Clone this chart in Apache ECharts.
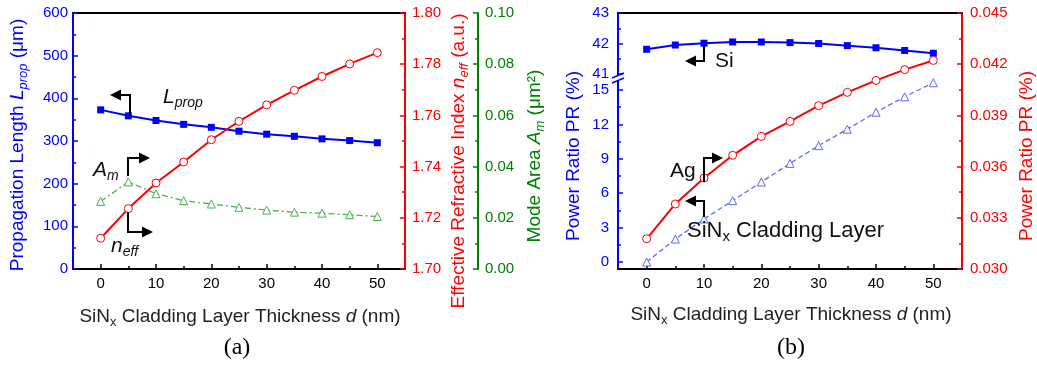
<!DOCTYPE html>
<html><head><meta charset="utf-8">
<script src="https://cdn.jsdelivr.net/npm/echarts@6/dist/echarts.min.js"></script>
<style>html,body{margin:0;padding:0;background:#fff}#c{width:1037px;height:366px}</style>
</head><body><div id="c"></div>
<script>
// ---- data ----
const thickness = [0, 5, 10, 15, 20, 25, 30, 35, 40, 45, 50];
const propLength = [373, 359, 348, 339, 332, 323, 316, 311, 305, 301, 296];
const nEff = [1.712, 1.7236, 1.7336, 1.7418, 1.7505, 1.7577, 1.7641, 1.7698, 1.7752, 1.7801, 1.7845];
const modeArea = [0.0264, 0.034, 0.0294, 0.0267, 0.0254, 0.0241, 0.0230, 0.0222, 0.0218, 0.0212, 0.0205];
const prSi = [41.81, 41.95, 42.01, 42.05, 42.05, 42.03, 42.0, 41.93, 41.86, 41.77, 41.68];
const prSiNx = [0, 2.0, 3.75, 5.35, 6.97, 8.6, 10.15, 11.58, 13.06, 14.41, 15.63];
const prAg = [0.03177, 0.03381, 0.03533, 0.03666, 0.03777, 0.03865, 0.03957, 0.04035, 0.04105, 0.04168, 0.04222];
const xMajorTicks = [0, 10, 20, 30, 40, 50];
const xMinorTicks = [5, 15, 25, 35, 45];

const FONT = 'Liberation Sans, Arial, sans-serif';
const BLUE = '#0000ff', RED = '#ff0000', GREEN = '#008000', BLACK = '#000';
const pairs = arr => thickness.map((x, i) => [x, arr[i]]);

function xMain(grid) {
  return {
    type: 'value', gridIndex: grid, position: 'bottom', min: -5, max: 55,
    axisLine: {show: true, onZero: false, lineStyle: {color: BLACK, width: 2}},
    axisTick: {show: true, inside: true, length: 5, customValues: xMajorTicks, lineStyle: {color: BLACK, width: 1.5}},
    axisLabel: {show: true, customValues: xMajorTicks, color: BLACK, fontSize: 15, fontFamily: FONT, margin: 7},
    splitLine: {show: false}
  };
}
function xMinor(grid) {
  return {
    type: 'value', gridIndex: grid, position: 'bottom', min: -5, max: 55,
    axisLine: {show: false},
    axisTick: {show: true, inside: true, length: 3, customValues: xMinorTicks, lineStyle: {color: BLACK, width: 1.5}},
    axisLabel: {show: false}, splitLine: {show: false}
  };
}
function xTop(grid) {
  return {
    type: 'value', gridIndex: grid, position: 'top', min: -5, max: 55,
    axisLine: {show: true, onZero: false, lineStyle: {color: BLACK, width: 2}},
    axisTick: {show: false}, axisLabel: {show: false}, splitLine: {show: false}
  };
}
function xHidden(grid) {
  return {type: 'value', gridIndex: grid, min: -5, max: 55, show: false};
}
function yAx(o) {
  const c = o.color;
  return {
    type: 'value', gridIndex: o.grid, position: o.pos, offset: o.offset || 0,
    min: o.min, max: o.max, interval: o.interval,
    axisLine: {show: o.line !== false, onZero: false, lineStyle: {color: c, width: 2}},
    axisTick: {show: true, inside: true, length: 5, lineStyle: {color: c, width: 1.5}},
    minorTick: {show: true, splitNumber: 2, length: 3, lineStyle: {color: c, width: 1.5}},
    axisLabel: {show: true, color: c, fontSize: 15, fontFamily: FONT, margin: o.margin || 7,
      formatter: o.fmt || (v => String(v))},
    splitLine: {show: false}
  };
}

function rich(color, size) {
  const sub = Math.round(size * 0.66);
  return {
    n: {fontSize: size, fontFamily: FONT, fill: color},
    i: {fontSize: size, fontFamily: FONT, fill: color, fontStyle: 'italic'},
    s: {fontSize: sub, fontFamily: FONT, fill: color, verticalAlign: 'bottom', padding: [Math.round(size * 0.55), 0, 0, 0]},
    si: {fontSize: sub, fontFamily: FONT, fill: color, fontStyle: 'italic', verticalAlign: 'bottom', padding: [Math.round(size * 0.55), 0, 0, 0]}
  };
}
function txt(text, x, y, color, size, rot, align) {
  return {
    type: 'text', x: x, y: y, rotation: rot ? Math.PI / 2 : 0, z: 100,
    style: {text: text, rich: rich(color, size), align: align || 'center', verticalAlign: 'middle', fill: color}
  };
}
function arrow(path, dir) {
  const b = path[path.length - 1];
  const len = 11, hw = 5.5;
  const tipX = dir === 'left' ? b[0] - len : b[0] + len;
  return [
    {type: 'polyline', z: 100, shape: {points: path}, style: {stroke: BLACK, lineWidth: 2, fill: null}},
    {type: 'polygon', z: 100, shape: {points: [[tipX, b[1]], [b[0], b[1] - hw], [b[0], b[1] + hw]]}, style: {fill: BLACK}}
  ];
}

const graphics = [
  // axis titles, chart (a)
  txt('{n|Propagation Length }{i|L}{si|prop}{n| (μm)}', 18, 145, BLUE, 19, true),
  txt('{n|Effective Refractive Index }{i|n}{si|eff}{n| (a.u.)}', 459, 161, RED, 19, true),
  txt('{n|Mode Area }{i|A}{si|m}{n| (μm²)}', 535, 156, GREEN, 19, true),
  txt('{n|SiN}{s|x}{n| Cladding Layer Thickness }{i|d}{n| (nm)}', 240, 317, '#222', 19, false),
  // axis titles, chart (b)
  txt('{n|Power Ratio PR (%)}', 574, 156, BLUE, 19, true),
  txt('{n|Power Ratio PR (%)}', 1027, 156, RED, 19, true),
  txt('{n|SiN}{s|x}{n| Cladding Layer Thickness }{i|d}{n| (nm)}', 791, 315, '#222', 19, false),
  // panel letters
  {type: 'text', x: 237, y: 348, z: 100, style: {text: '(a)', fill: BLACK, font: '24px "Liberation Serif", "Times New Roman", serif', align: 'center', verticalAlign: 'middle'}},
  {type: 'text', x: 791, y: 348, z: 100, style: {text: '(b)', fill: BLACK, font: '24px "Liberation Serif", "Times New Roman", serif', align: 'center', verticalAlign: 'middle'}},
  // annotations (a)
  txt('{i|L}{si|prop}', 163, 97, '#111', 21, false, 'left'),
  txt('{i|A}{si|m}', 93, 170, '#111', 21, false, 'left'),
  txt('{i|n}{si|eff}', 111, 246, '#111', 21, false, 'left'),
  ...arrow([[130, 116], [130, 95], [121, 95]], 'left'),
  ...arrow([[128, 176], [128, 158], [139, 158]], 'right'),
  ...arrow([[128, 212], [128, 232], [142, 232]], 'right'),
  // annotations (b)
  txt('{n|Si}', 715, 61, '#111', 21, false, 'left'),
  txt('{n|Ag}', 670, 171, '#111', 21, false, 'left'),
  txt('{n|SiN}{s|x}{n| Cladding Layer}', 687, 231, '#111', 22, false, 'left'),
  ...arrow([[704, 45], [704, 61], [696, 61]], 'left'),
  ...arrow([[704, 182], [704, 158], [712, 158]], 'right'),
  ...arrow([[704, 217], [704, 201], [696, 201]], 'left'),
  // axis break marks on chart (b)
  {type: 'rect', z: 100, shape: {x: 611, y: 75, width: 14, height: 6}, style: {fill: '#fff'}},
  {type: 'line', z: 101, shape: {x1: 612, y1: 78, x2: 624, y2: 73}, style: {stroke: BLUE, lineWidth: 1.5}},
  {type: 'line', z: 101, shape: {x1: 612, y1: 83, x2: 624, y2: 78}, style: {stroke: BLUE, lineWidth: 1.5}}
];

const option = {
  animation: false,
  backgroundColor: '#fff',
  grid: [
    {left: 73, top: 13, width: 332, height: 256},
    {left: 618, top: 13, width: 344, height: 256},
    {left: 618, top: 13, width: 344, height: 61},
    {left: 618, top: 90, width: 344, height: 172}
  ],
  xAxis: [
    xMain(0), xMinor(0), xTop(0),
    xMain(1), xMinor(1), xTop(1),
    xHidden(2), xHidden(3)
  ],
  yAxis: [
    yAx({grid: 0, pos: 'left', color: BLUE, min: 0, max: 600, interval: 100, margin: 5}),
    yAx({grid: 0, pos: 'right', color: RED, min: 1.70, max: 1.80, interval: 0.02, fmt: v => v.toFixed(2)}),
    yAx({grid: 0, pos: 'right', offset: 73, color: GREEN, min: 0, max: 0.10, interval: 0.02, fmt: v => v.toFixed(2)}),
    yAx({grid: 1, pos: 'right', color: RED, min: 0.030, max: 0.045, interval: 0.003, margin: 8, fmt: v => v.toFixed(3)}),
    {type: 'value', gridIndex: 1, position: 'left', min: 0, max: 1,
      axisLine: {show: true, onZero: false, lineStyle: {color: BLUE, width: 2}},
      axisTick: {show: false}, axisLabel: {show: false}, splitLine: {show: false}},
    yAx({grid: 2, pos: 'left', color: BLUE, min: 41, max: 43, interval: 1, line: false, margin: 9}),
    yAx({grid: 3, pos: 'left', color: BLUE, min: 0, max: 15, interval: 3, line: false, margin: 9})
  ],
  series: [
    {name: 'Lprop', type: 'line', xAxisIndex: 0, yAxisIndex: 0, data: pairs(propLength),
      symbol: 'rect', symbolSize: 7, lineStyle: {color: BLUE, width: 2}, itemStyle: {color: BLUE}, z: 3},
    {name: 'Am', type: 'line', xAxisIndex: 0, yAxisIndex: 2, data: pairs(modeArea),
      symbol: 'triangle', symbolSize: 8, lineStyle: {color: '#4cb04c', width: 1.3, type: [6, 3, 2, 3]},
      itemStyle: {color: '#fff', borderColor: '#4cb04c', borderWidth: 1}, z: 4},
    {name: 'neff', type: 'line', xAxisIndex: 0, yAxisIndex: 1, data: pairs(nEff),
      symbol: 'circle', symbolSize: 8, lineStyle: {color: RED, width: 2},
      itemStyle: {color: '#fff', borderColor: RED, borderWidth: 1}, z: 5},
    {name: 'Si', type: 'line', xAxisIndex: 6, yAxisIndex: 5, data: pairs(prSi),
      symbol: 'rect', symbolSize: 7, lineStyle: {color: BLUE, width: 2}, itemStyle: {color: BLUE}, z: 3},
    {name: 'SiNx', type: 'line', xAxisIndex: 7, yAxisIndex: 6, data: pairs(prSiNx), clip: false,
      symbol: 'triangle', symbolSize: 8, lineStyle: {color: '#5c6cff', width: 1.3, type: [5, 3]},
      itemStyle: {color: '#fff', borderColor: '#5c6cff', borderWidth: 1}, z: 4},
    {name: 'Ag', type: 'line', xAxisIndex: 3, yAxisIndex: 3, data: pairs(prAg),
      symbol: 'circle', symbolSize: 8, lineStyle: {color: RED, width: 2},
      itemStyle: {color: '#fff', borderColor: RED, borderWidth: 1}, z: 5}
  ],
  graphic: {elements: graphics}
};

const chart = echarts.init(document.getElementById('c'), null, {renderer: 'canvas'});
chart.setOption(option);
</script>
</body></html>
